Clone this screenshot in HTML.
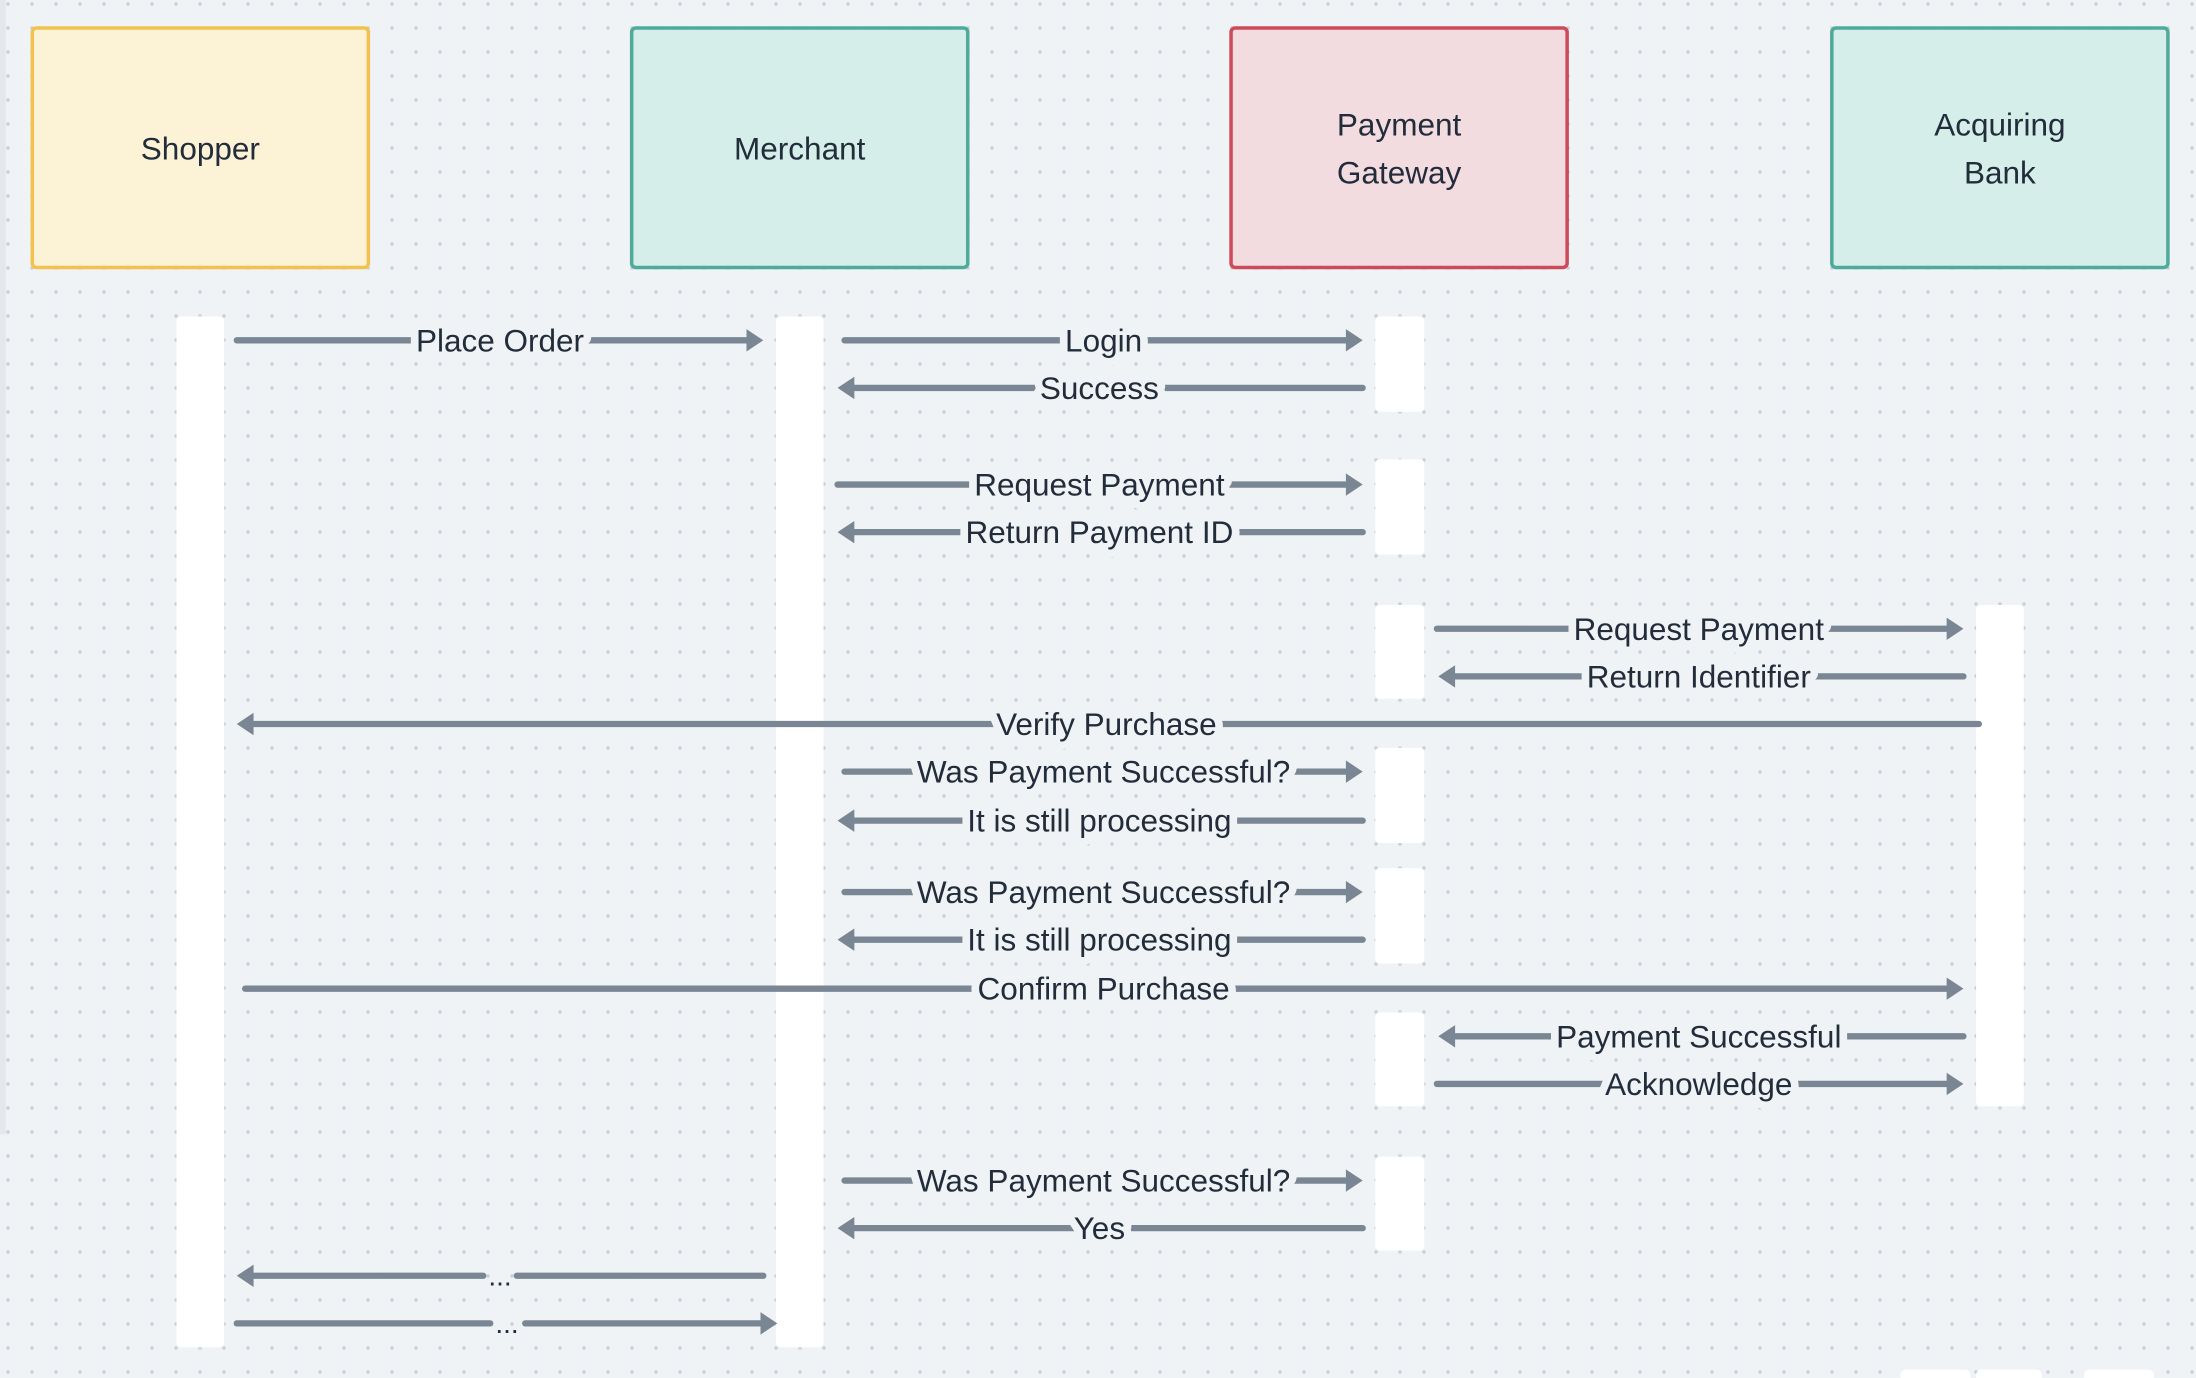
<!DOCTYPE html>
<html><head><meta charset="utf-8"><style>
html,body{margin:0;padding:0;width:2196px;height:1378px;overflow:hidden;background-color:#eff3f6;
background-image:radial-gradient(circle,#c9d0da 1.6px,transparent 2px);background-size:24px 24px;background-position:-4px -8px;}
svg{position:absolute;left:0;top:0}
text{font-family:"Liberation Sans",sans-serif;fill:#222c3a;}
.lbl{font-size:22.5px;text-anchor:middle;dominant-baseline:central;paint-order:stroke;stroke:#eff3f6;stroke-width:11px;stroke-linejoin:round}
.t{font-size:22.5px;text-anchor:middle;dominant-baseline:central}
line.a{stroke:#7a8694;stroke-width:4.5;stroke-linecap:round}
polygon.h{fill:#7a8694}
</style></head><body>
<svg width="2196" height="1378" viewBox="0 0 1568 984">
<rect x="0" y="0" width="4" height="810" fill="#e4e8ec"/>
<rect x="23" y="20" width="240" height="171" rx="3" fill="#fcf3d6" stroke="#f2c14e" stroke-width="2.5"/>
<text class="t" x="143" y="106">Shopper</text>
<rect x="451" y="20" width="240" height="171" rx="3" fill="#d5eeea" stroke="#4faa9b" stroke-width="2.5"/>
<text class="t" x="571" y="106">Merchant</text>
<rect x="879" y="20" width="240" height="171" rx="3" fill="#f3dce0" stroke="#cc4a5a" stroke-width="2.5"/>
<text class="t" x="999" y="89">Payment</text><text class="t" x="999" y="123">Gateway</text>
<rect x="1308" y="20" width="240" height="171" rx="3" fill="#d5eeea" stroke="#4faa9b" stroke-width="2.5"/>
<text class="t" x="1428" y="89">Acquiring</text><text class="t" x="1428" y="123">Bank</text>
<g fill="#ffffff">
<rect x="126" y="226" width="34" height="736" rx="3"/>
<rect x="554" y="226" width="34" height="736" rx="3"/>
<rect x="982" y="226" width="35" height="68" rx="3"/>
<rect x="982" y="328" width="35" height="68" rx="3"/>
<rect x="982" y="432" width="35" height="67" rx="3"/>
<rect x="982" y="534" width="35" height="68" rx="3"/>
<rect x="982" y="620" width="35" height="68" rx="3"/>
<rect x="982" y="723" width="35" height="67" rx="3"/>
<rect x="982" y="826" width="35" height="67" rx="3"/>
<rect x="1411" y="432" width="34" height="358" rx="3"/>
<rect x="1357" y="978" width="50" height="10" rx="4"/>
<rect x="1411" y="978" width="47" height="10" rx="4"/>
<rect x="1488" y="978" width="50" height="10" rx="4"/>
</g>
<g>
<line class="a" x1="169" y1="243" x2="535" y2="243"/><polygon class="h" points="545,243 533,235 533,251"/>
<line class="a" x1="603" y1="243" x2="963" y2="243"/><polygon class="h" points="973,243 961,235 961,251"/>
<line class="a" x1="973" y1="277" x2="608" y2="277"/><polygon class="h" points="598,277 610,269 610,285"/>
<line class="a" x1="598" y1="346" x2="963" y2="346"/><polygon class="h" points="973,346 961,338 961,354"/>
<line class="a" x1="973" y1="380" x2="608" y2="380"/><polygon class="h" points="598,380 610,372 610,388"/>
<line class="a" x1="1026" y1="449" x2="1392" y2="449"/><polygon class="h" points="1402,449 1390,441 1390,457"/>
<line class="a" x1="1402" y1="483" x2="1037" y2="483"/><polygon class="h" points="1027,483 1039,475 1039,491"/>
<line class="a" x1="1413" y1="517" x2="179" y2="517"/><polygon class="h" points="169,517 181,509 181,525"/>
<line class="a" x1="603" y1="551" x2="963" y2="551"/><polygon class="h" points="973,551 961,543 961,559"/>
<line class="a" x1="973" y1="586" x2="608" y2="586"/><polygon class="h" points="598,586 610,578 610,594"/>
<line class="a" x1="603" y1="637" x2="963" y2="637"/><polygon class="h" points="973,637 961,629 961,645"/>
<line class="a" x1="973" y1="671" x2="608" y2="671"/><polygon class="h" points="598,671 610,663 610,679"/>
<line class="a" x1="175" y1="706" x2="1392" y2="706"/><polygon class="h" points="1402,706 1390,698 1390,714"/>
<line class="a" x1="1402" y1="740" x2="1037" y2="740"/><polygon class="h" points="1027,740 1039,732 1039,748"/>
<line class="a" x1="1026" y1="774" x2="1392" y2="774"/><polygon class="h" points="1402,774 1390,766 1390,782"/>
<line class="a" x1="603" y1="843" x2="963" y2="843"/><polygon class="h" points="973,843 961,835 961,851"/>
<line class="a" x1="973" y1="877" x2="608" y2="877"/><polygon class="h" points="598,877 610,869 610,885"/>
<line class="a" x1="545" y1="911" x2="369" y2="911"/><line class="a" x1="345" y1="911" x2="179" y2="911"/><polygon class="h" points="169,911 181,903 181,919"/>
<line class="a" x1="169" y1="945" x2="350" y2="945"/><line class="a" x1="375" y1="945" x2="545" y2="945"/><polygon class="h" points="555,945 543,937 543,953"/>
</g>
<text class="lbl" x="357" y="243">Place Order</text>
<text class="lbl" x="788" y="243">Login</text>
<text class="lbl" x="785" y="277">Success</text>
<text class="lbl" x="785" y="346">Request Payment</text>
<text class="lbl" x="785" y="380">Return Payment ID</text>
<text class="lbl" x="1213" y="449">Request Payment</text>
<text class="lbl" x="1213" y="483">Return Identifier</text>
<text class="lbl" x="790" y="517">Verify Purchase</text>
<text class="lbl" x="788" y="551">Was Payment Successful?</text>
<text class="lbl" x="785" y="586">It is still processing</text>
<text class="lbl" x="788" y="637">Was Payment Successful?</text>
<text class="lbl" x="785" y="671">It is still processing</text>
<text class="lbl" x="788" y="706">Confirm Purchase</text>
<text class="lbl" x="1213" y="740">Payment Successful</text>
<text class="lbl" x="1213" y="774">Acknowledge</text>
<text class="lbl" x="788" y="843">Was Payment Successful?</text>
<text class="lbl" x="785" y="877">Yes</text>
<text class="t" x="357" y="911" style="font-size:20px">...</text>
<text class="t" x="362" y="945" style="font-size:20px">...</text>
</svg>
</body></html>
